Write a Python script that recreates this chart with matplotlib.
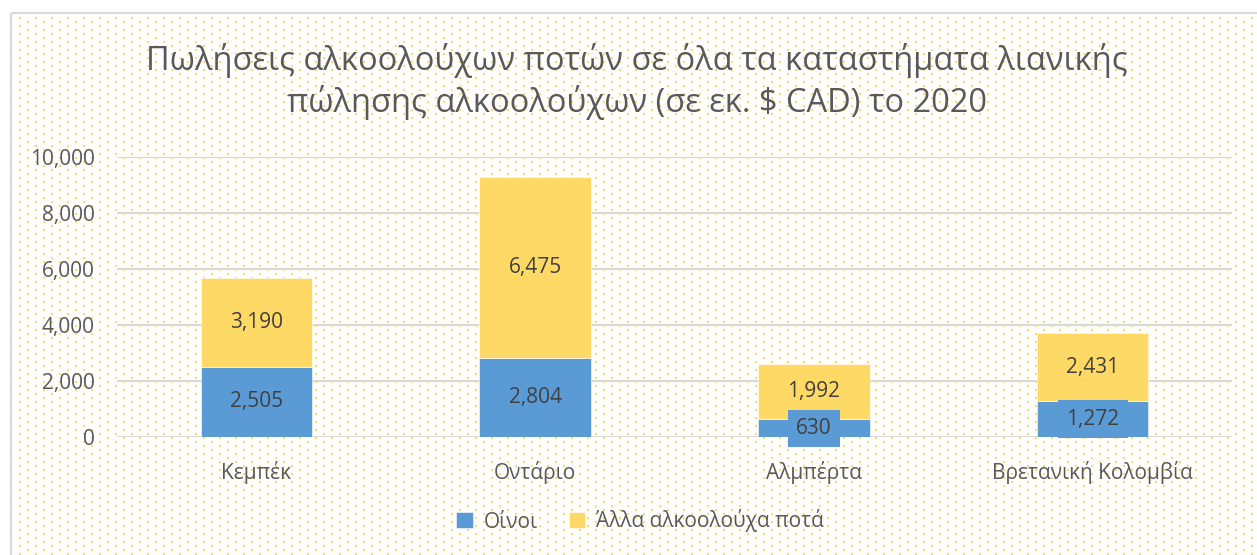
import matplotlib
matplotlib.use("Agg")
import matplotlib.pyplot as plt
from matplotlib.patches import Rectangle
from matplotlib.ticker import FuncFormatter
import numpy as np

plt.rcParams['font.family'] = ['Open Sans', 'DejaVu Sans']

categories = ["Κεμπέκ", "Οντάριο", "Αλμπέρτα", "Βρετανική Κολομβία"]
wine = [2505, 2804, 630, 1272]
other = [3190, 6475, 1992, 2431]
series_names = ["Οίνοι", "Άλλα αλκοολούχα ποτά"]
title_lines = ["Πωλήσεις αλκοολούχων ποτών σε όλα τα καταστήματα λιανικής",
               "πώλησης αλκοολούχων (σε εκ. $ CAD) το 2020"]
yticks = [0, 2000, 4000, 6000, 8000, 10000]

BLUE = "#5B9BD5"
YELLOW = "#FFD966"
GRID = "#D9D9D9"
TXT = "#595959"
LBL = "#404040"

W, H = 1257, 555
fig = plt.figure(figsize=(W / 100, H / 100), dpi=100)
fig.patch.set_facecolor("white")

# dotted background
bg = fig.add_axes([0, 0, 1, 1], zorder=0)
bg.set_xlim(0, W)
bg.set_ylim(H, 0)
bg.axis("off")
xs, ys = [], []
for j, y in enumerate(np.arange(17.5, H, 4)):
    off = 0 if j % 2 == 0 else 8
    xr = np.arange(20 - off, W, 16)
    xr = xr[xr > 12.5]
    xs.append(xr)
    ys.append(np.full_like(xr, y, dtype=float))
bg.scatter(np.concatenate(xs), np.concatenate(ys), s=2.4, marker="s",
           color=YELLOW, linewidths=0)
bg.add_patch(Rectangle((11, 13), W, H, fill=False, edgecolor=GRID, lw=1.5))

# main axes
left, right, top, bottom = 117, 1232, 157, 437
ax = fig.add_axes([left / W, 1 - bottom / H, (right - left) / W, (bottom - top) / H], zorder=1)
ax.patch.set_alpha(0)
x = np.arange(len(categories))
bw = 0.4
b1 = ax.bar(x, wine, bw, color=BLUE, edgecolor="white", linewidth=0.4, zorder=3, label=series_names[0])
b2 = ax.bar(x, other, bw, bottom=wine, color=YELLOW, edgecolor="white", linewidth=0.4, zorder=3, label=series_names[1])

ax.set_xlim(-0.5, len(categories) - 0.5)
ax.set_ylim(0, 10000)
ax.set_yticks(yticks)
ax.yaxis.set_major_formatter(FuncFormatter(lambda v, p: f"{int(v):,}"))
ax.set_xticks(x)
ax.set_xticklabels(categories)
ax.grid(axis="y", color=GRID, linewidth=1.5, zorder=0)
for s in ax.spines.values():
    s.set_visible(False)
ax.tick_params(axis="both", length=0, labelsize=15, labelcolor=TXT)
ax.tick_params(axis="y", pad=16)
ax.tick_params(axis="x", pad=17)

for i in range(len(categories)):
    ax.text(x[i], wine[i] / 2, f"{wine[i]:,}", ha="center", va="center", fontsize=15, color=LBL,
            zorder=5, bbox=dict(boxstyle="square,pad=0.4", facecolor=BLUE, edgecolor="none"))
    ax.text(x[i], wine[i] + other[i] / 2, f"{other[i]:,}", ha="center", va="center", fontsize=15,
            color=LBL, zorder=5, bbox=dict(boxstyle="square,pad=0.4", facecolor=YELLOW, edgecolor="none"))

fig.text(637 / W, 1 - 60 / H, title_lines[0], ha="center", va="center", fontsize=23.5, color=TXT)
fig.text(637 / W, 1 - 103 / H, title_lines[1], ha="center", va="center", fontsize=23.5, color=TXT)

fig.legend(handles=[b1, b2], labels=series_names, loc="center", bbox_to_anchor=(640 / W, 1 - 521 / H),
           ncol=2, frameon=False, fontsize=15, labelcolor=TXT, handlelength=0.8, handleheight=0.8,
           handletextpad=0.5, columnspacing=1.5)

fig.savefig("out.png", dpi=100, facecolor="white")
